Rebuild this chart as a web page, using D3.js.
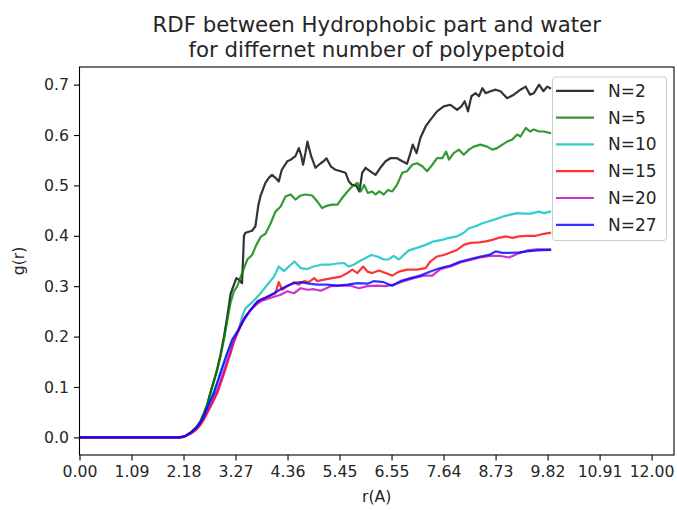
<!DOCTYPE html>
<html>
<head>
<meta charset="utf-8">
<script src="https://cdn.jsdelivr.net/npm/d3@7"></script>
<style>
  html, body { margin: 0; padding: 0; background: #fff; }
  svg { display: block; font-family: "DejaVu Sans", sans-serif; }
</style>
</head>
<body>
<svg id="chart" width="677" height="511"></svg>
<script>
// Radial distribution function g(r) samples, [r (Å), g(r)] per system size
const rdfN2 = [[0,0],[2.1,0],[2.2,0.002],[2.33,0.009],[2.45,0.02],[2.54,0.032],[2.62,0.05],[2.68,0.065],[2.75,0.09],[2.82,0.112],[2.89,0.136],[2.96,0.165],[3.03,0.2],[3.1,0.24],[3.17,0.285],[3.24,0.303],[3.29,0.316],[3.34,0.313],[3.41,0.306],[3.45,0.4],[3.48,0.406],[3.55,0.408],[3.62,0.41],[3.69,0.419],[3.75,0.46],[3.8,0.48],[3.9,0.505],[3.97,0.515],[4.04,0.521],[4.11,0.515],[4.18,0.508],[4.24,0.53],[4.29,0.538],[4.36,0.548],[4.43,0.551],[4.53,0.558],[4.6,0.574],[4.65,0.56],[4.69,0.541],[4.74,0.565],[4.78,0.587],[4.82,0.572],[4.86,0.558],[4.95,0.535],[5.06,0.544],[5.12,0.548],[5.18,0.554],[5.27,0.538],[5.37,0.531],[5.48,0.528],[5.58,0.525],[5.65,0.508],[5.72,0.501],[5.81,0.499],[5.87,0.488],[5.93,0.525],[6.0,0.535],[6.1,0.528],[6.21,0.521],[6.31,0.535],[6.42,0.548],[6.52,0.554],[6.66,0.554],[6.77,0.548],[6.87,0.543],[6.94,0.564],[6.99,0.581],[7.07,0.564],[7.15,0.594],[7.26,0.617],[7.36,0.63],[7.5,0.647],[7.64,0.657],[7.78,0.66],[7.92,0.65],[8.01,0.657],[8.08,0.667],[8.15,0.647],[8.22,0.677],[8.31,0.683],[8.38,0.677],[8.45,0.693],[8.52,0.683],[8.62,0.687],[8.73,0.69],[8.83,0.687],[8.97,0.673],[9.11,0.68],[9.25,0.69],[9.36,0.696],[9.45,0.68],[9.53,0.683],[9.64,0.7],[9.73,0.687],[9.81,0.696],[9.87,0.693]];
const rdfN5 = [[0,0],[2.1,0],[2.2,0.002],[2.33,0.009],[2.45,0.02],[2.54,0.032],[2.62,0.05],[2.68,0.065],[2.75,0.09],[2.82,0.112],[2.89,0.134],[2.96,0.162],[3.03,0.194],[3.1,0.232],[3.17,0.268],[3.24,0.29],[3.31,0.3],[3.41,0.326],[3.52,0.353],[3.62,0.362],[3.7,0.38],[3.8,0.398],[3.9,0.404],[4.01,0.425],[4.11,0.448],[4.22,0.458],[4.32,0.478],[4.43,0.482],[4.53,0.472],[4.64,0.48],[4.74,0.482],[4.88,0.48],[4.99,0.468],[5.09,0.455],[5.2,0.46],[5.3,0.462],[5.41,0.462],[5.51,0.475],[5.62,0.488],[5.72,0.498],[5.83,0.505],[5.9,0.488],[5.97,0.501],[6.05,0.485],[6.14,0.488],[6.21,0.482],[6.29,0.488],[6.38,0.482],[6.47,0.491],[6.56,0.488],[6.66,0.501],[6.77,0.525],[6.87,0.528],[6.98,0.541],[7.08,0.544],[7.19,0.538],[7.29,0.528],[7.4,0.541],[7.5,0.554],[7.61,0.554],[7.69,0.567],[7.75,0.551],[7.85,0.564],[7.96,0.571],[8.06,0.561],[8.17,0.571],[8.27,0.577],[8.41,0.581],[8.55,0.577],[8.66,0.571],[8.76,0.574],[8.87,0.581],[8.97,0.587],[9.08,0.591],[9.18,0.601],[9.25,0.597],[9.36,0.614],[9.45,0.607],[9.53,0.611],[9.64,0.607],[9.74,0.607],[9.87,0.604]];
const rdfN10 = [[0,0],[2.1,0],[2.2,0.002],[2.33,0.009],[2.45,0.018],[2.54,0.029],[2.62,0.043],[2.68,0.058],[2.75,0.075],[2.82,0.092],[2.89,0.11],[2.96,0.13],[3.03,0.15],[3.1,0.168],[3.17,0.182],[3.24,0.195],[3.34,0.212],[3.41,0.24],[3.48,0.256],[3.55,0.262],[3.62,0.268],[3.7,0.276],[3.8,0.286],[3.94,0.303],[4.08,0.319],[4.18,0.339],[4.29,0.33],[4.39,0.339],[4.51,0.349],[4.64,0.336],[4.78,0.334],[4.91,0.339],[5.09,0.343],[5.27,0.343],[5.41,0.345],[5.55,0.346],[5.65,0.339],[5.76,0.343],[5.86,0.349],[6.0,0.356],[6.12,0.362],[6.25,0.359],[6.38,0.353],[6.49,0.353],[6.59,0.36],[6.7,0.353],[6.8,0.362],[6.91,0.371],[7.08,0.376],[7.26,0.382],[7.43,0.389],[7.61,0.392],[7.75,0.396],[7.92,0.399],[8.06,0.406],[8.17,0.415],[8.31,0.419],[8.45,0.425],[8.59,0.429],[8.73,0.433],[8.87,0.438],[9.04,0.442],[9.18,0.445],[9.32,0.444],[9.46,0.444],[9.64,0.448],[9.74,0.445],[9.87,0.448]];
const rdfN15 = [[0,0],[2.1,0],[2.2,0.001],[2.33,0.007],[2.45,0.015],[2.54,0.025],[2.62,0.037],[2.7,0.052],[2.8,0.07],[2.89,0.088],[2.96,0.107],[3.03,0.126],[3.1,0.147],[3.17,0.167],[3.24,0.19],[3.31,0.206],[3.38,0.22],[3.45,0.236],[3.52,0.245],[3.59,0.253],[3.7,0.265],[3.8,0.273],[3.97,0.28],[4.11,0.286],[4.18,0.308],[4.25,0.293],[4.36,0.3],[4.5,0.308],[4.6,0.303],[4.71,0.31],[4.81,0.308],[4.92,0.316],[4.99,0.31],[5.13,0.313],[5.3,0.316],[5.48,0.319],[5.62,0.326],[5.72,0.333],[5.83,0.326],[5.95,0.339],[6.04,0.329],[6.14,0.326],[6.28,0.331],[6.42,0.326],[6.56,0.321],[6.7,0.329],[6.87,0.333],[7.08,0.333],[7.26,0.336],[7.36,0.349],[7.5,0.359],[7.64,0.362],[7.78,0.367],[7.92,0.372],[8.06,0.382],[8.2,0.386],[8.38,0.387],[8.52,0.389],[8.66,0.392],[8.8,0.396],[8.94,0.399],[9.08,0.396],[9.22,0.399],[9.39,0.4],[9.57,0.4],[9.74,0.404],[9.87,0.406]];
const rdfN20 = [[0,0],[2.1,0],[2.2,0.001],[2.33,0.008],[2.45,0.017],[2.54,0.027],[2.62,0.04],[2.7,0.056],[2.8,0.075],[2.89,0.094],[2.96,0.112],[3.03,0.132],[3.1,0.152],[3.17,0.172],[3.24,0.192],[3.31,0.208],[3.38,0.224],[3.48,0.24],[3.59,0.253],[3.7,0.263],[3.8,0.27],[4.01,0.277],[4.22,0.283],[4.36,0.29],[4.5,0.286],[4.64,0.296],[4.78,0.293],[4.92,0.294],[5.06,0.291],[5.27,0.3],[5.48,0.301],[5.69,0.301],[5.86,0.296],[6.04,0.3],[6.25,0.301],[6.42,0.3],[6.59,0.303],[6.8,0.31],[7.01,0.316],[7.22,0.321],[7.4,0.321],[7.57,0.334],[7.78,0.339],[7.99,0.347],[8.2,0.352],[8.41,0.357],[8.62,0.36],[8.83,0.36],[9.01,0.357],[9.18,0.364],[9.39,0.371],[9.6,0.373],[9.87,0.373]];
const rdfN27 = [[0,0],[2.1,0],[2.2,0.002],[2.33,0.009],[2.45,0.019],[2.54,0.03],[2.62,0.045],[2.7,0.064],[2.82,0.088],[2.96,0.128],[3.1,0.167],[3.2,0.194],[3.31,0.21],[3.45,0.233],[3.59,0.253],[3.73,0.27],[3.9,0.277],[4.08,0.286],[4.22,0.294],[4.36,0.301],[4.5,0.306],[4.64,0.308],[4.81,0.305],[4.99,0.303],[5.2,0.303],[5.41,0.301],[5.62,0.303],[5.83,0.306],[6.04,0.305],[6.17,0.31],[6.38,0.308],[6.56,0.301],[6.73,0.31],[6.94,0.316],[7.15,0.321],[7.36,0.329],[7.57,0.336],[7.78,0.341],[7.99,0.349],[8.2,0.354],[8.41,0.359],[8.59,0.362],[8.73,0.369],[8.87,0.366],[9.04,0.366],[9.22,0.367],[9.39,0.369],[9.6,0.371],[9.87,0.372]];

const seriesLabels = ["N=2", "N=5", "N=10", "N=15", "N=20", "N=27"];
const seriesColors = ["#000000", "#008000", "#00bfbf", "#ff0000", "#bf00bf", "#0000ff"];
const seriesData = [rdfN2, rdfN5, rdfN10, rdfN15, rdfN20, rdfN27];

// x ticks: 12 evenly spaced values from 0 to 12
const xTickValues = d3.range(12).map(i => i * 12 / 11);
const yTickValues = [0, 0.1, 0.2, 0.3, 0.4, 0.5, 0.6, 0.7];

const titleLines = ["RDF between Hydrophobic part and water", "for differnet number of polypeptoid"];
const xLabel = "r(A)";
const yLabel = "g(r)";

const svg = d3.select("#chart");
const plot = { left: 79.5, right: 674, top: 67, bottom: 455 };

const x = d3.scaleLinear().domain([0, 12.47]).range([plot.left, plot.right]);
const y = d3.scaleLinear().domain([-0.035, 0.735]).range([plot.bottom, plot.top]);

const tickFont = 15.7;
const textColor = "#262626";

// clip lines to the axes area
svg.append("defs").append("clipPath").attr("id", "clip")
  .append("rect")
  .attr("x", plot.left).attr("y", plot.top)
  .attr("width", plot.right - plot.left).attr("height", plot.bottom - plot.top);

const line = d3.line().x(d => x(d[0])).y(d => y(d[1]));

const lines = svg.append("g").attr("clip-path", "url(#clip)");
seriesData.forEach((data, i) => {
  lines.append("path")
    .datum(data)
    .attr("d", line)
    .attr("fill", "none")
    .attr("stroke", seriesColors[i])
    .attr("stroke-opacity", 0.8)
    .attr("stroke-width", 2.2)
    .attr("stroke-linejoin", "round")
    .attr("stroke-linecap", "square");
});

// axes
const xAxis = d3.axisBottom(x).tickValues(xTickValues).tickFormat(d3.format(".2f")).tickSizeOuter(0).tickSize(5.5).tickPadding(5);
const yAxis = d3.axisLeft(y).tickValues(yTickValues).tickFormat(d3.format(".1f")).tickSizeOuter(0).tickSize(5.5).tickPadding(5);

const gx = svg.append("g").attr("transform", `translate(0,${plot.bottom})`).call(xAxis);
const gy = svg.append("g").attr("transform", `translate(${plot.left},0)`).call(yAxis);
[gx, gy].forEach(g => {
  g.select(".domain").remove();
  g.selectAll(".tick line").attr("stroke", "#000").attr("stroke-width", 1.1);
  g.selectAll(".tick text").attr("fill", textColor).attr("font-size", tickFont)
    .attr("font-family", "DejaVu Sans, sans-serif");
});

// axes frame
svg.append("rect")
  .attr("x", plot.left).attr("y", plot.top)
  .attr("width", plot.right - plot.left).attr("height", plot.bottom - plot.top)
  .attr("fill", "none").attr("stroke", "#000").attr("stroke-width", 1.1);

// title
const title = svg.append("text")
  .attr("text-anchor", "middle")
  .attr("font-size", 21.3)
  .attr("fill", textColor);
titleLines.forEach((t, i) => {
  title.append("tspan")
    .attr("x", (plot.left + plot.right) / 2)
    .attr("y", 31.5 + i * 25.5)
    .text(t);
});

// axis labels
svg.append("text")
  .attr("x", (plot.left + plot.right) / 2).attr("y", 502)
  .attr("text-anchor", "middle").attr("font-size", tickFont).attr("fill", textColor)
  .text(xLabel);
svg.append("text")
  .attr("transform", `translate(24,${(plot.top + plot.bottom) / 2}) rotate(-90)`)
  .attr("text-anchor", "middle").attr("font-size", tickFont).attr("fill", textColor)
  .text(yLabel);

// legend
const legend = svg.append("g");
legend.append("rect")
  .attr("x", 552.5).attr("y", 77).attr("width", 114).attr("height", 163.5)
  .attr("rx", 3).attr("ry", 3)
  .attr("fill", "#fff").attr("fill-opacity", 0.8)
  .attr("stroke", "#cccccc").attr("stroke-width", 1);
seriesLabels.forEach((label, i) => {
  const cy = 90.8 + i * 26.8;
  legend.append("line")
    .attr("x1", 556).attr("x2", 594).attr("y1", cy).attr("y2", cy)
    .attr("stroke", seriesColors[i]).attr("stroke-opacity", 0.8).attr("stroke-width", 2.2);
  legend.append("text")
    .attr("x", 608).attr("y", cy + 6)
    .attr("font-size", 17).attr("fill", textColor)
    .text(label);
});
</script>
</body>
</html>
